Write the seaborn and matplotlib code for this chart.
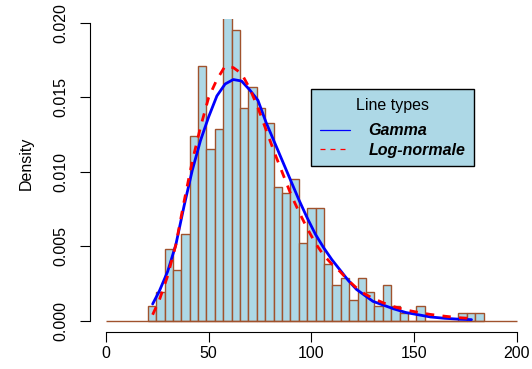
import numpy as np
import pandas as pd
import seaborn as sns
import matplotlib.pyplot as plt
from matplotlib.lines import Line2D

# histogram breaks and bar densities
BIN_START = 20.3
BIN_WIDTH = 4.09
density = [0.0010, 0.0019, 0.0048, 0.0034, 0.0058, 0.0124, 0.0171, 0.0115,
           0.0129, 0.0225, 0.0195, 0.0143, 0.0157, 0.0143, 0.0133, 0.0090,
           0.0086, 0.0095, 0.0052, 0.0076, 0.0076, 0.0038, 0.0024, 0.0029,
           0.0014, 0.0029, 0.0019, 0.0010, 0.0024, 0.0010, 0.0005, 0.0,
           0.0010, 0.0, 0.0, 0.0, 0.0, 0.0005, 0.0005, 0.0005]

# fitted densities, read point by point
curve_x = [22.7, 26, 30, 34, 38, 42, 46, 50, 54, 58, 62, 66, 70, 74, 78, 82,
           86, 90, 94, 98, 102, 106, 110, 114, 118, 122, 126, 130, 135, 140,
           146, 152, 158, 165, 172, 178]
gamma_y = [0.00112, 0.0020, 0.0033, 0.0051, 0.0077, 0.0101, 0.0121, 0.0137,
           0.0151, 0.0159, 0.0162, 0.0161, 0.0155, 0.0148, 0.0133, 0.0120,
           0.0107, 0.0094, 0.0081, 0.0069, 0.0058, 0.0049, 0.0041, 0.0034,
           0.0027, 0.0021, 0.0017, 0.0013, 0.00105, 0.0008, 0.00055, 0.0004,
           0.00025, 0.00016, 0.0001, 0.00007]
lnorm_y = [0.0004, 0.0014, 0.0030, 0.0051, 0.0080, 0.0107, 0.0130, 0.0150,
           0.0162, 0.0171, 0.0170, 0.0166, 0.0156, 0.0143, 0.0128, 0.0113,
           0.0099, 0.0085, 0.0073, 0.0062, 0.0052, 0.0044, 0.0038, 0.0033,
           0.0027, 0.0022, 0.0018, 0.0015, 0.0012, 0.00095, 0.00072, 0.00056,
           0.00042, 0.0003, 0.0002, 0.00015]

legend_labels = ["Gamma", "Log-normale"]
xticks = [0, 50, 100, 150, 200]
yticks = [0.000, 0.005, 0.010, 0.015, 0.020]

BAR_FILL = "#ADD8E6"
BAR_EDGE = "#A0522D"
FS = 11.5

edges = BIN_START + BIN_WIDTH * np.arange(len(density) + 1)
bars = pd.DataFrame({"mid": (edges[:-1] + edges[1:]) / 2, "density": density})

sns.set_style("ticks")
plt.rcParams["font.family"] = ["Liberation Sans", "DejaVu Sans"]
plt.rcParams["text.color"] = "black"
plt.rcParams["axes.labelcolor"] = "black"

fig = plt.figure(figsize=(5.32, 3.69), dpi=100)
ax = fig.add_axes([89.6 / 532, 1 - 332.3 / 369, 443.5 / 532, 313.8 / 369])

sns.histplot(data=bars, x="mid", weights="density", bins=list(edges),
             stat="count", color=BAR_FILL, edgecolor=BAR_EDGE, linewidth=1,
             alpha=1, ax=ax)
ax.hlines(0, xticks[0], xticks[-1], color=BAR_EDGE, lw=1, zorder=1)

sns.lineplot(x=curve_x, y=gamma_y, color="blue", lw=2, ax=ax)
sns.lineplot(x=curve_x, y=lnorm_y, color="red", lw=2, ax=ax)
ax.lines[-1].set_dashes((3, 3))

ax.set_xlim(-8, 208)
ax.set_ylim(-0.00078, 0.0203)
for s in ["top", "right"]:
    ax.spines[s].set_visible(False)
ax.spines["left"].set_bounds(yticks[0], yticks[-1])
ax.spines["bottom"].set_bounds(xticks[0], xticks[-1])
for s in ["left", "bottom"]:
    ax.spines[s].set_color("black")
    ax.spines[s].set_linewidth(0.8)

ax.set_xticks(xticks)
ax.set_xticklabels([str(v) for v in xticks])
ax.set_yticks(yticks)
ax.set_yticklabels([f"{v:.3f}" for v in yticks], rotation=90, va="center")
ax.tick_params(length=7.2, width=0.8, labelsize=FS, color="black",
               labelcolor="black")
ax.tick_params(axis="x", pad=2.5)
ax.tick_params(axis="y", pad=8)

ax.set_xlabel("")
ax.set_ylabel("Density", fontsize=FS)
ax.yaxis.set_label_coords(-0.125, 0.54)

handles = [Line2D([], [], color="blue", lw=0.9),
           Line2D([], [], color="red", lw=0.9, linestyle=(0, (4, 4)))]
leg = ax.legend(handles, legend_labels, title="Line types", loc="upper left",
                bbox_to_anchor=(311 / 532, 1 - 89.3 / 369),
                bbox_transform=fig.transFigure, borderaxespad=0,
                frameon=True, fancybox=False, facecolor=BAR_FILL,
                edgecolor="black", framealpha=1,
                prop={"weight": "bold", "style": "italic", "size": FS},
                title_fontsize=FS, handlelength=1.9, handletextpad=1.15,
                borderpad=0.55, labelspacing=0.28)
leg.get_frame().set_linewidth(1.0)
leg.get_title().set_color("black")
for t in leg.get_texts():
    t.set_color("black")
# a little more room between the title and the entries, as in the original
leg._legend_box.sep = 7.3

fig.savefig("out.png", dpi=100)
